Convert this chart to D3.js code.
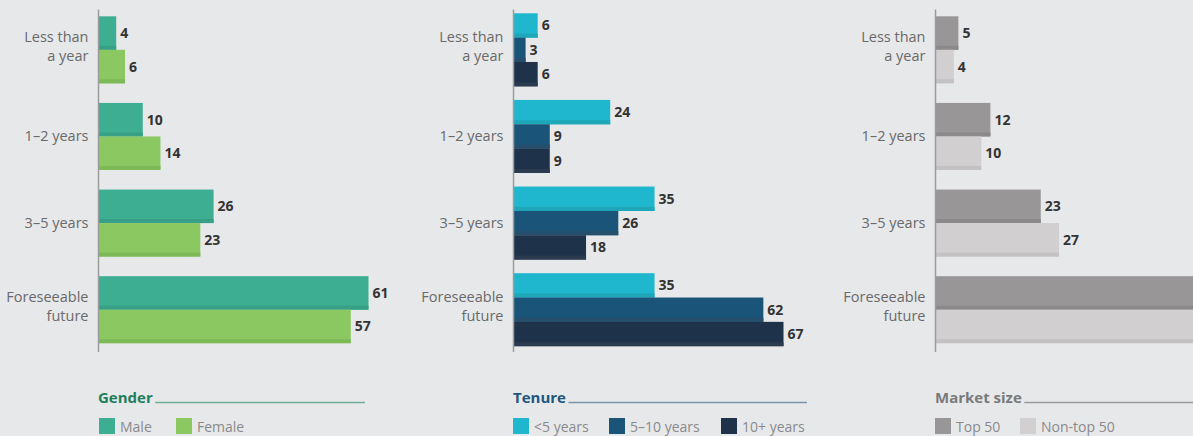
<!DOCTYPE html>
<html>
<head>
<meta charset="utf-8">
<script src="https://cdn.jsdelivr.net/npm/d3@7"></script>
<style>
  body { margin: 0; background: #e7e8ea; overflow: hidden; }
  svg { display: block; font-family: "Open Sans", sans-serif; }
</style>
</head>
<body>
<svg id="chart" width="1193" height="436"></svg>
<script>
// categories (multi-line labels)
var categories = [["Less than", "a year"], ["1–2 years"], ["3–5 years"], ["Foreseeable", "future"]];

// Gender
var genderNames = ["Male", "Female"];
var male = [4, 10, 26, 61];
var female = [6, 14, 23, 57];

// Tenure
var tenureNames = ["<5 years", "5–10 years", "10+ years"];
var under5 = [6, 24, 35, 35];
var fiveTo10 = [3, 9, 26, 62];
var tenPlus = [6, 9, 18, 67];

// Market size (last pair is cut off at the right edge in the original)
var marketNames = ["Top 50", "Non-top 50"];
var top50 = [5, 12, 23, 59];
var nonTop50 = [4, 10, 27, 58];

var W = 1193;

var panels = [
  { title: "Gender", titleColor: "#1f7f5c", lineColor: "#6fae94", axisX: 98.5, lineEnd: 365, groupH: 67,
    names: genderNames, series: [male, female],
    colors: ["#3dae92", "#8bc862"], shades: ["#37a086", "#7eb958"], legendX: [99, 176] },
  { title: "Tenure", titleColor: "#1f5680", lineColor: "#7d95aa", axisX: 513.5, lineEnd: 807, groupH: 73,
    names: tenureNames, series: [under5, fiveTo10, tenPlus],
    colors: ["#1fb7cd", "#1b5479", "#1e3249"], shades: ["#1ea6b9", "#254f6c", "#2a3a4f"], legendX: [513, 609, 721] },
  { title: "Market size", titleColor: "#7a7a7a", lineColor: "#9a9a9a", axisX: 935.5, lineEnd: 1193, groupH: 67,
    names: marketNames, series: [top50, nonTop50],
    colors: ["#989696", "#d1cfd0"], shades: ["#8b8989", "#c3c1c2"], legendX: [935, 1020] }
];

var svg = d3.select("#chart");

var y = d3.scaleBand()
  .domain(d3.range(categories.length))
  .range([6.5, 353]);

panels.forEach(function(p) {
  var g = svg.append("g");
  var maxVal = d3.max(p.series, function(s) { return d3.max(s); });
  var x = d3.scaleLinear().domain([0, maxVal]).range([0, 270]);
  var left = p.axisX;

  // category labels
  categories.forEach(function(lines, i) {
    var cy = y(i) + y.bandwidth() / 2;
    var t = g.append("text")
      .attr("text-anchor", "end")
      .attr("font-size", 14.5)
      .attr("fill", "#6a6a6a");
    lines.forEach(function(line, k) {
      var base = lines.length == 1 ? cy + 5 : cy - 7.5 + k * 19;
      t.append("tspan").attr("x", left - 10).attr("y", base).text(line);
    });
  });

  // bars
  categories.forEach(function(c, i) {
    var cy = y(i) + y.bandwidth() / 2;
    var sub = d3.scaleBand()
      .domain(d3.range(p.series.length))
      .range([cy - p.groupH / 2, cy + p.groupH / 2]);
    p.series.forEach(function(s, j) {
      var w = x(s[i]);
      var by = sub(j), bh = sub.bandwidth();
      g.append("rect")
        .attr("x", left).attr("y", by)
        .attr("width", w).attr("height", bh)
        .attr("fill", p.colors[j]);
      g.append("rect")
        .attr("x", left).attr("y", by + bh - 4)
        .attr("width", w).attr("height", 4)
        .attr("fill", p.shades[j]);
      // labels past the page edge are not visible in the original
      if (left + w + 20 < W) {
        g.append("text")
          .attr("x", left + w + 4)
          .attr("y", by + bh / 2 + 5)
          .attr("font-size", 14)
          .attr("font-weight", 700)
          .attr("fill", "#333")
          .text(s[i]);
      }
    });
  });

  // axis line
  g.append("line")
    .attr("x1", left).attr("x2", left)
    .attr("y1", 9.5).attr("y2", 352)
    .attr("stroke", "#9c9c9c").attr("stroke-width", 1.5);

  // legend title + rule
  var title = g.append("text")
    .attr("x", left - 0.5).attr("y", 403)
    .attr("font-size", 15).attr("font-weight", 700)
    .attr("fill", p.titleColor)
    .text(p.title);
  var tw = title.node().getComputedTextLength();
  g.append("line")
    .attr("x1", left + tw + 2).attr("x2", p.lineEnd)
    .attr("y1", 402.5).attr("y2", 402.5)
    .attr("stroke", p.lineColor).attr("stroke-width", 1.5);

  // legend items
  p.names.forEach(function(n, j) {
    var lx = p.legendX[j];
    g.append("rect")
      .attr("x", lx).attr("y", 418)
      .attr("width", 16).attr("height", 16)
      .attr("fill", p.colors[j]);
    g.append("text")
      .attr("x", lx + 21).attr("y", 432)
      .attr("font-size", 14)
      .attr("fill", "#8a8a8a")
      .text(n);
  });
});
</script>
</body>
</html>
